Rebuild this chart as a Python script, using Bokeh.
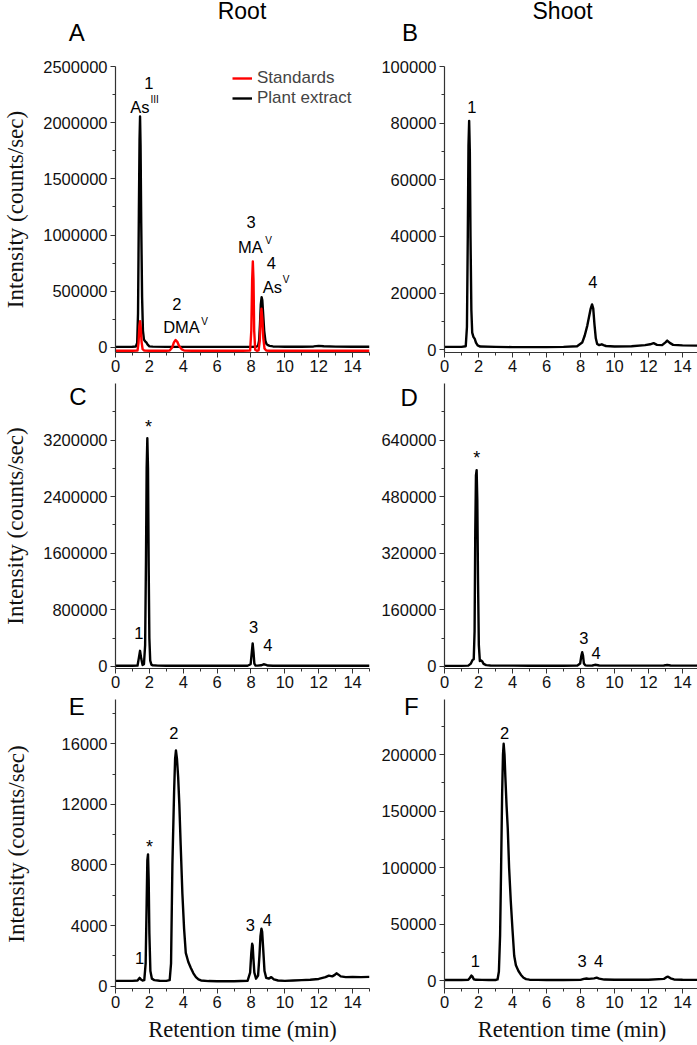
from bokeh.plotting import figure
from bokeh.models import (Label, Legend, LegendItem, FixedTicker,
                          NumeralTickFormatter, Range1d, Div)
from bokeh.layouts import column, row
from bokeh.embed import file_html
from bokeh.resources import INLINE

# ---------------- data (retention time in min, intensity in counts/sec) ----------------
x_ticks = [0, 2, 4, 6, 8, 10, 12, 14]
x_minor = [1, 3, 5, 7, 9, 11, 13, 15]

# Panel A  (root, plant extract + standards)
a_t_plant = [0, 0.5, 1.0, 1.2, 1.28, 1.33, 1.38, 1.42, 1.45, 1.48, 1.52, 1.57, 1.62, 1.68,
             1.75, 1.82, 1.9, 2.0, 2.2, 3, 4, 5, 6, 7, 8, 8.3, 8.42, 8.48, 8.53, 8.58, 8.63,
             8.67, 8.72, 8.78, 8.85, 8.92, 9.0, 9.1, 9.3, 9.6, 10, 11, 11.7, 12.0, 12.3, 13, 14, 15]
a_i_plant = [5000, 5000, 6000, 8000, 40000, 300000, 1200000, 1850000, 2055000, 1800000,
             1100000, 450000, 150000, 70000, 55000, 45000, 25000, 10000, 7000, 5000, 5000,
             5000, 5000, 5000, 5000, 6000, 15000, 60000, 200000, 380000, 447000, 420000,
             300000, 150000, 60000, 30000, 20000, 14000, 9000, 7000, 6000, 6000, 9000, 14000,
             10000, 7000, 6000, 6000]
a_t_std = [0, 1.0, 1.3, 1.36, 1.41, 1.45, 1.49, 1.54, 1.6, 1.7, 2.0, 3.0, 3.2, 3.35, 3.45,
           3.55, 3.65, 3.75, 3.9, 4.05, 4.5, 6, 7.5, 7.95, 8.02, 8.07, 8.11, 8.15, 8.19, 8.25,
           8.35, 8.45, 8.52, 8.57, 8.62, 8.67, 8.73, 8.8, 8.9, 9.1, 10, 12, 15]
a_i_std = [-30000, -30000, -28000, 40000, 190000, 233000, 180000, 50000, -15000, -28000,
           -30000, -30000, -28000, 0, 45000, 66000, 50000, 15000, -15000, -27000, -30000,
           -30000, -30000, -28000, 150000, 600000, 765000, 600000, 150000, -20000, -30000,
           -25000, 60000, 250000, 344000, 260000, 80000, -10000, -28000, -30000, -30000,
           -30000, -30000]
a_y_ticks = [0, 500000, 1000000, 1500000, 2000000, 2500000]
a_y_minor = [250000, 750000, 1250000, 1750000, 2250000]

# Panel B  (shoot)
b_t = [0, 0.5, 1.0, 1.25, 1.32, 1.37, 1.41, 1.45, 1.49, 1.53, 1.58, 1.63, 1.7, 1.78, 1.85,
       1.95, 2.1, 3, 4, 5, 6, 7, 7.8, 8.1, 8.25, 8.4, 8.5, 8.6, 8.68, 8.75, 8.82, 8.9, 8.98,
       9.1, 9.25, 9.35, 9.5, 10, 11, 11.8, 12.1, 12.3, 12.5, 12.8, 13.0, 13.1, 13.25, 13.45,
       14, 15]
b_i = [1000, 1000, 1000, 1200, 8000, 40000, 72000, 80800, 70000, 40000, 14000, 6000, 4500,
       3800, 2500, 1500, 1100, 1000, 900, 900, 900, 1000, 1200, 2500, 5000, 8500, 11500,
       14500, 16000, 14500, 9000, 4000, 2000, 1600, 1900, 1600, 1300, 1100, 1200, 1600, 1900,
       2300, 1700, 1600, 2600, 3200, 2400, 1700, 1500, 1400]
b_y_ticks = [0, 20000, 40000, 60000, 80000, 100000]
b_y_minor = [10000, 30000, 50000, 70000, 90000]

# Panel C  (root)
c_t = [0, 1.0, 1.3, 1.38, 1.45, 1.52, 1.6, 1.68, 1.75, 1.8, 1.84, 1.88, 1.92, 1.96, 2.0,
       2.05, 2.12, 2.2, 2.5, 3, 4, 5, 6, 7, 7.8, 7.98, 8.05, 8.1, 8.15, 8.2, 8.27, 8.4, 8.6,
       8.75, 8.85, 9.0, 9.3, 10, 12, 13, 15]
c_i = [8000, 8000, 10000, 120000, 220000, 110000, 20000, 30000, 300000, 1500000, 2800000,
       3225000, 2800000, 1400000, 400000, 80000, 25000, 15000, 10000, 9000, 8000, 8000,
       8000, 8000, 9000, 30000, 200000, 325000, 200000, 40000, 12000, 10000, 15000, 30000,
       25000, 12000, 9000, 8000, 8000, 8000, 8000]
c_y_ticks = [0, 800000, 1600000, 2400000, 3200000]
c_y_minor = [400000, 1200000, 2000000, 2800000, 3600000]

# Panel D  (shoot)
d_t = [0, 1.0, 1.4, 1.55, 1.65, 1.72, 1.77, 1.81, 1.85, 1.89, 1.93, 1.97, 2.02, 2.08, 2.15,
       2.22, 2.3, 2.45, 2.7, 3, 4, 5, 6, 7, 7.8, 7.98, 8.05, 8.1, 8.15, 8.2, 8.28, 8.4, 8.7,
       8.85, 8.95, 9.1, 10, 12, 12.9, 13.1, 13.3, 14, 15]
d_i = [1500, 1500, 2000, 8000, 18000, 20000, 100000, 380000, 540000, 555000, 470000,
       250000, 60000, 15000, 17000, 14000, 7000, 3500, 2500, 2000, 2000, 1800, 1800, 1800,
       2000, 8000, 30000, 40000, 30000, 8000, 3000, 2200, 2500, 4500, 4000, 2500, 2000,
       2000, 2500, 4000, 2500, 2000, 2000]
d_y_ticks = [0, 160000, 320000, 480000, 640000]
d_y_minor = [80000, 240000, 400000, 560000, 720000]

# Panel E  (root)
e_t = [0, 0.5, 1.0, 1.3, 1.42, 1.5, 1.6, 1.7, 1.78, 1.84, 1.88, 1.92, 1.96, 2.0, 2.06, 2.15,
       2.3, 2.6, 3.0, 3.2, 3.28, 3.36, 3.46, 3.52, 3.57, 3.63, 3.7, 3.77, 3.85, 3.95, 4.05,
       4.15, 4.3, 4.45, 4.6, 4.75, 4.9, 5.05, 5.5, 6, 7, 7.8, 7.95, 8.02, 8.07, 8.1, 8.14,
       8.2, 8.3, 8.42, 8.5, 8.56, 8.62, 8.66, 8.72, 8.8, 8.9, 9.05, 9.2, 9.35, 9.6, 10, 10.5,
       11, 11.5, 12, 12.4, 12.6, 12.8, 12.95, 13.05, 13.15, 13.3, 13.6, 14, 14.5, 15]
e_i = [350, 350, 350, 380, 550, 450, 380, 400, 1500, 5500, 8300, 8700, 7000, 3500, 1000,
       500, 400, 360, 350, 400, 1500, 8000, 12800, 15000, 15560, 15000, 13800, 12000, 9300,
       6100, 3800, 2200, 1600, 1200, 850, 600, 450, 380, 340, 330, 330, 360, 900, 2200, 2800,
       2700, 1900, 900, 500, 700, 2000, 3300, 3800, 3600, 2500, 1000, 550, 500, 600, 450,
       380, 350, 380, 400, 430, 480, 600, 700, 650, 750, 850, 780, 650, 600, 620, 600, 620]
e_y_ticks = [0, 4000, 8000, 12000, 16000]
e_y_minor = [2000, 6000, 10000, 14000, 18000]

# Panel F  (shoot)
f_t = [0, 0.5, 1.0, 1.4, 1.5, 1.58, 1.65, 1.72, 1.85, 2.2, 2.6, 3.0, 3.12, 3.2, 3.27, 3.33,
       3.39, 3.44, 3.48, 3.53, 3.58, 3.65, 3.72, 3.8, 3.9, 4.0, 4.1, 4.2, 4.35, 4.5, 4.65,
       4.8, 5.0, 5.5, 6, 7, 8.0, 8.2, 8.35, 8.5, 8.8, 8.95, 9.1, 9.4, 10, 11, 12, 12.9, 13.05,
       13.15, 13.3, 13.5, 14, 15]
f_i = [500, 500, 500, 700, 2500, 4400, 3500, 1200, 700, 600, 550, 550, 1000, 8000, 40000,
       100000, 165000, 200000, 209500, 200000, 180000, 155000, 135000, 100000, 70000, 45000,
       22000, 13500, 8500, 5000, 2500, 1300, 800, 600, 550, 500, 600, 1500, 1800, 1500, 2000,
       2600, 1800, 900, 700, 700, 700, 1500, 3000, 3500, 2000, 1000, 700, 600]
f_y_ticks = [0, 50000, 100000, 150000, 200000]
f_y_minor = [25000, 75000, 125000, 175000, 225000]

# ---------------- styling helpers ----------------
SANS = "Liberation Sans"
SERIF = "Liberation Serif"
AX = "#333333"
Y_TITLE = "Intensity (counts/sec)"
X_TITLE = "Retention time (min)"


def make_fig(y_range, y_ticks, y_minor, fw, fh, left, right, top, bottom):
    p = figure(frame_width=fw, frame_height=fh, min_border_left=left,
               min_border_right=right, min_border_top=top, min_border_bottom=bottom,
               x_range=Range1d(0, 15), y_range=Range1d(*y_range),
               output_backend="svg", toolbar_location=None, tools="")
    p.grid.visible = False
    p.outline_line_color = None
    p.background_fill_color = "white"
    p.border_fill_color = "white"
    p.xaxis.ticker = FixedTicker(ticks=x_ticks, minor_ticks=x_minor)
    p.yaxis.ticker = FixedTicker(ticks=y_ticks, minor_ticks=y_minor)
    p.yaxis.formatter = NumeralTickFormatter(format="0")
    for ax in (p.xaxis, p.yaxis):
        ax.axis_line_color = AX
        ax.axis_line_width = 1.2
        ax.major_tick_line_color = AX
        ax.minor_tick_line_color = AX
        ax.major_tick_out = 5
        ax.major_tick_in = 0
        ax.minor_tick_out = 3
        ax.minor_tick_in = 0
        ax.major_label_text_font = SANS
        ax.major_label_text_font_size = "16.5px"
        ax.major_label_text_color = "#111111"
        ax.major_label_standoff = 3
        ax.axis_label_text_font = SERIF
        ax.axis_label_text_font_style = "normal"
        ax.axis_label_text_color = "#111111"
    p.xaxis.major_label_standoff = 2
    return p


def trace(p, t, i, color="black"):
    return p.line(t, i, line_color=color, line_width=2.4, line_join="round")


def peak_text(p, t, v, text, size="16.5px", align="center"):
    p.add_layout(Label(x=t, y=v, text=text, text_font=SANS, text_font_size=size,
                       text_align=align, text_baseline="middle", text_color="black"))


def page_text(text, left, top, size):
    return Div(text=text, margin=0,
               styles={"position": "absolute", "left": f"{left}px", "top": f"{top}px",
                       "font-family": "'Liberation Sans', Arial, sans-serif",
                       "font-size": f"{size}px", "line-height": f"{size}px",
                       "color": "black", "margin": "0", "padding": "0",
                       "white-space": "nowrap"})


FW_L, FW_R = 254, 255
L_LEFT, L_RIGHT = 111, 5
R_LEFT, R_RIGHT = 70, 0

# ---------------- row 1 ----------------
pa = make_fig((-45000, 2500000), a_y_ticks, a_y_minor, FW_L, 286, L_LEFT, L_RIGHT, 66, 28)
r_plant = trace(pa, a_t_plant, a_i_plant, "black")
r_std = trace(pa, a_t_std, a_i_std, "#ff0000")
leg = Legend(items=[LegendItem(label="Standards", renderers=[r_std]),
                    LegendItem(label="Plant extract", renderers=[r_plant])],
             location=(117, 244), border_line_alpha=0, background_fill_alpha=0,
             padding=0, spacing=0, margin=0, glyph_width=20, glyph_height=20,
             label_height=20, label_standoff=5, label_text_font=SANS,
             label_text_font_size="17px")
pa.add_layout(leg)
pa.yaxis.axis_label = Y_TITLE
pa.yaxis.axis_label_text_font_size = "23px"
pa.yaxis.axis_label_standoff = 12
peak_text(pa, 1.97, 2351000, "1")
peak_text(pa, 1.44, 2138000, "As")
peak_text(pa, 2.07, 2206000, "III", size="10px", align="left")
peak_text(pa, 3.62, 388000, "2")
peak_text(pa, 3.90, 180000, "DMA")
peak_text(pa, 5.06, 228000, "V", size="10px", align="left")
peak_text(pa, 8.01, 1114000, "3")
peak_text(pa, 7.97, 892000, "MA")
peak_text(pa, 8.84, 951000, "V", size="10px", align="left")
peak_text(pa, 9.20, 750000, "4")
peak_text(pa, 9.26, 536000, "As")
peak_text(pa, 9.88, 602000, "V", size="10px", align="left")

pb = make_fig((-1000, 100000), b_y_ticks, b_y_minor, FW_R, 286, R_LEFT, R_RIGHT, 66, 28)
trace(pb, b_t, b_i)
peak_text(pb, 1.61, 85860, "1")
peak_text(pb, 8.72, 23800, "4")

# ---------------- row 2 ----------------
pc = make_fig((-30000, 4000000), c_y_ticks, c_y_minor, FW_L, 285, L_LEFT, L_RIGHT, 3, 28)
trace(pc, c_t, c_i)
pc.yaxis.axis_label = Y_TITLE
pc.yaxis.axis_label_text_font_size = "23px"
pc.yaxis.axis_label_standoff = 12
peak_text(pc, 1.95, 3380000, "*", size="18px")
peak_text(pc, 1.38, 469000, "1")
peak_text(pc, 8.15, 554000, "3")
peak_text(pc, 8.99, 305000, "4")

pd_ = make_fig((-6000, 800000), d_y_ticks, d_y_minor, FW_R, 285, R_LEFT, R_RIGHT, 3, 28)
trace(pd_, d_t, d_i)
peak_text(pd_, 1.90, 590000, "*", size="18px")
peak_text(pd_, 8.19, 80800, "3")
peak_text(pd_, 8.92, 37300, "4")

# ---------------- row 3 ----------------
pe = make_fig((-150, 18920), e_y_ticks, e_y_minor, FW_L, 289, L_LEFT, L_RIGHT, 3, 57)
trace(pe, e_t, e_i)
pe.yaxis.axis_label = Y_TITLE
pe.yaxis.axis_label_text_font_size = "23px"
pe.yaxis.axis_label_standoff = 30
pe.xaxis.axis_label = X_TITLE
pe.xaxis.axis_label_text_font_size = "22.5px"
pe.xaxis.axis_label_standoff = 6
peak_text(pe, 3.44, 16700, "2")
peak_text(pe, 2.01, 9200, "*", size="18px")
peak_text(pe, 1.42, 1850, "1")
peak_text(pe, 7.97, 4054, "3")
peak_text(pe, 8.96, 4384, "4")

pf = make_fig((-7000, 248700), f_y_ticks, f_y_minor, FW_R, 289, R_LEFT, R_RIGHT, 3, 57)
trace(pf, f_t, f_i)
pf.xaxis.axis_label = X_TITLE
pf.xaxis.axis_label_text_font_size = "22.5px"
pf.xaxis.axis_label_standoff = 6
peak_text(pf, 3.53, 218900, "2")
peak_text(pf, 1.81, 16900, "1")
peak_text(pf, 8.10, 16900, "3")
peak_text(pf, 9.06, 16900, "4")

# panel letters and column headers (outside the plot frames)
texts = [
    page_text("Root", 217.7, 0, 23),
    page_text("Shoot", 532.5, 0, 23),
    page_text("A", 68.7, 21.4, 24),
    page_text("B", 402, 21.4, 24),
    page_text("C", 69.2, 384.7, 24),
    page_text("D", 400.5, 385.7, 24),
    page_text("E", 68.7, 694.7, 24),
    page_text("F", 404, 694.7, 24),
]

layout = column(row(pa, pb), row(pc, pd_), row(pe, pf), *texts)
open("out.html", "w").write(file_html(layout, INLINE))
